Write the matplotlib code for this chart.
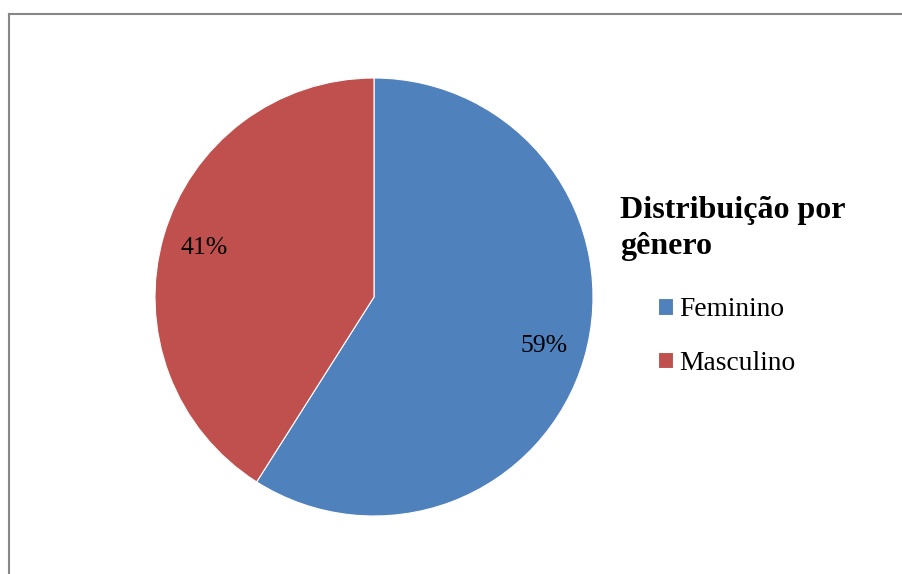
import matplotlib
matplotlib.use("Agg")
import matplotlib.pyplot as plt
from matplotlib.lines import Line2D

plt.rcParams['font.family'] = ['Liberation Serif', 'DejaVu Serif']

# Dados
categorias = ['Feminino', 'Masculino']
valores = [59, 41]
cores = ['#4F81BD', '#C0504D']
titulo_legenda = 'Distribuição por\ngênero'

W, H = 903, 574
fig = plt.figure(figsize=(W / 100, H / 100), dpi=100)

# Eixo do gráfico de pizza (centro ~ (374, 297), raio ~ 219 px)
cx, cy, r = 374, 297, 219
ax = fig.add_axes([(cx - r) / W, (H - cy - r) / H, 2 * r / W, 2 * r / H])
wedges, _, autotexts = ax.pie(
    valores, colors=cores, startangle=90, counterclock=False,
    autopct='%1.0f%%', pctdistance=0.81,
    wedgeprops=dict(edgecolor='white', linewidth=0.8),
    textprops=dict(fontsize=18.5, color='black'))
ax.set_xlim(-1, 1)
ax.set_ylim(-1, 1)
ax.set_aspect('equal')

# Título da legenda
fig.text(620 / W, 1 - 196 / H, titulo_legenda, fontsize=23, fontweight='bold',
         ha='left', va='top', linespacing=1.32)

# Legenda
fig.legend(wedges, categorias, loc='upper left',
           bbox_to_anchor=(658 / W, 1 - 297 / H), frameon=False,
           fontsize=19.8, handlelength=0.545, handleheight=0.545,
           handletextpad=0.22, labelspacing=1.04, borderpad=0,
           borderaxespad=0)

# Moldura (apenas bordas esquerda e superior visíveis)
fig.add_artist(Line2D([9.5 / W, 9.5 / W], [0, 1 - 13.5 / H],
                      transform=fig.transFigure, color='#878787', lw=1.5))
fig.add_artist(Line2D([9.5 / W, 1], [1 - 13.5 / H, 1 - 13.5 / H],
                      transform=fig.transFigure, color='#878787', lw=1.5))

fig.savefig('out.png', dpi=100)
plt.close(fig)
